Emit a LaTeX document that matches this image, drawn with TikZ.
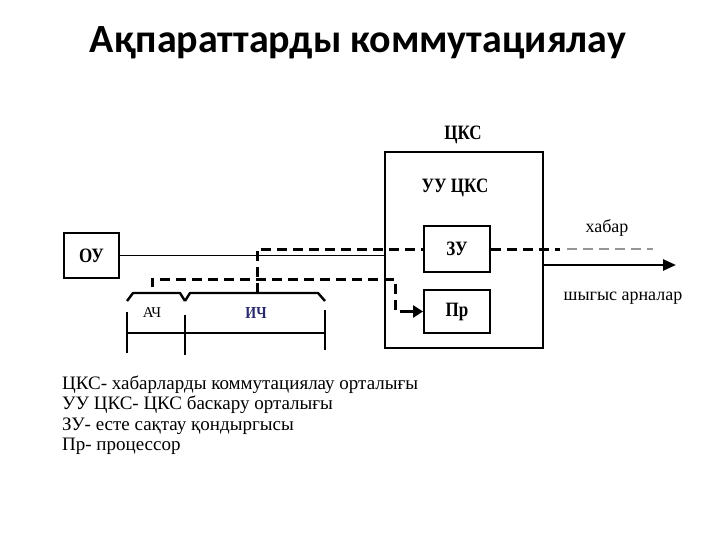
\documentclass[tikz,border=0pt]{standalone}
\usepackage{fontspec}
\usepackage{graphicx}
\setmainfont{Liberation Serif}
\newfontfamily\titlefont{Carlito}
\usetikzlibrary{arrows.meta}
\definecolor{navy}{RGB}{40,40,110}
\definecolor{lightdash}{RGB}{150,150,150}
\newcommand{\tallbox}[1]{\scalebox{1}[1.2]{#1}}
\tikzset{
  blk/.style={draw, line width=1.9pt, inner sep=0pt},
  lbl/.style={font=\bfseries\fontsize{17}{19}\selectfont, inner sep=0pt},
  dsh/.style={line width=3pt, dash pattern=on 10pt off 6pt},
  brc/.style={line width=2.4pt, line join=round},
  dim/.style={line width=2.4pt},
  legend/.style={anchor=base west, inner sep=0pt, font=\fontsize{19}{21}\selectfont},
}
\begin{document}
\begin{tikzpicture}[x=1pt,y=-1pt]
\useasboundingbox (0,0) rectangle (720,540);
% title
\node[anchor=base, inner sep=0pt, font=\titlefont\bfseries\fontsize{40}{44}\selectfont] (title) at (358,53) {Ақпараттарды коммутациялау};
% boxes
\node[blk, minimum width=55pt, minimum height=45pt] (OU) at (91.5,255.5) {};
\node[lbl] (OUt) at (91.5,255.5) {\tallbox{ОУ}};
\node[blk, minimum width=158pt, minimum height=196pt] (CKS) at (464,250) {};
\node[lbl] (CKSt) at (463,135) {\tallbox{ЦКС}};
\node[lbl] (UUt) at (455,188) {\tallbox{УУ ЦКС}};
\node[blk, minimum width=66pt, minimum height=46pt] (ZU) at (457,249) {};
\node[lbl] (ZUt) at (457,249) {\tallbox{ЗУ}};
\node[blk, minimum width=66pt, minimum height=43pt] (Pr) at (457,311.5) {};
\node[lbl] (Prt) at (457,311.5) {\tallbox{Пр}};
% outside labels
\node[inner sep=0pt, font=\fontsize{18}{20}\selectfont] (hab) at (607,228) {хабар};
\node[inner sep=0pt, font=\fontsize{18}{20}\selectfont] (out) at (623,298) {шыгыс арналар};
\node[inner sep=0pt, font=\fontsize{15}{17}\selectfont] (ACh) at (152,313) {АЧ};
\node[inner sep=0pt, text=navy, font=\bfseries\fontsize{14}{16}\selectfont] (ICh) at (256,313) {\tallbox{ИЧ}};
% coordinates
\coordinate (up) at (257,293);
\coordinate (blackend) at (560,249);
\coordinate (greyend) at (653,249);
\coordinate (lo) at (152,287);
\coordinate (lobend) at (395,279);
\coordinate (outend) at (676,265);
% solid line OU -> CKS
\draw[line width=1.5pt] (OU.east) -- (OU.east -| CKS.west);
% output arrow
\draw[line width=2.6pt, -{Triangle[length=13pt,width=11pt]}] (CKS.east |- outend) -- (outend);
% upper dashed line
\draw[dsh] (up) |- (ZU.west);
\draw[dsh] (ZU.east) -- (blackend);
\draw[dsh, lightdash, line width=2.2pt] (blackend) ++(7,0) coordinate (gstart) (gstart) -- (greyend);
% lower dashed line to Pr
\draw[dsh] (lo) |- (lobend) |- ([xshift=-14pt]Pr.west);
\draw[line width=3pt, -{Triangle[length=10pt,width=12pt]}] ([xshift=-14pt]Pr.west) -- (Pr.west);
% braces
\draw[brc] (127,301) -- (133,293) -- (180,293) -- (185,301);
\draw[brc] (185,301) -- (190,293) -- (318,293) -- (325,301);
% dimension line
\coordinate (t1a) at (127,312); \coordinate (t1b) at (127,353);
\coordinate (t2a) at (185,315); \coordinate (t2b) at (185,355);
\coordinate (t3a) at (325,310); \coordinate (t3b) at (325,350);
\draw[dim] (t1a) -- (t1b);
\draw[dim] (t2a) -- (t2b);
\draw[dim] (t3a) -- (t3b);
\draw[dim] (127,333) -- (325,333);
% legend
\node[legend] (L1) at (62,389) {ЦКС- хабарларды коммутациялау орталығы};
\node[legend] (L2) at (62,409.5) {УУ ЦКС- ЦКС баскару орталығы};
\node[legend] (L3) at (62,430) {ЗУ- есте сақтау қондыргысы};
\node[legend] (L4) at (62,450.5) {Пр- процессор};
\end{tikzpicture}
\end{document}
